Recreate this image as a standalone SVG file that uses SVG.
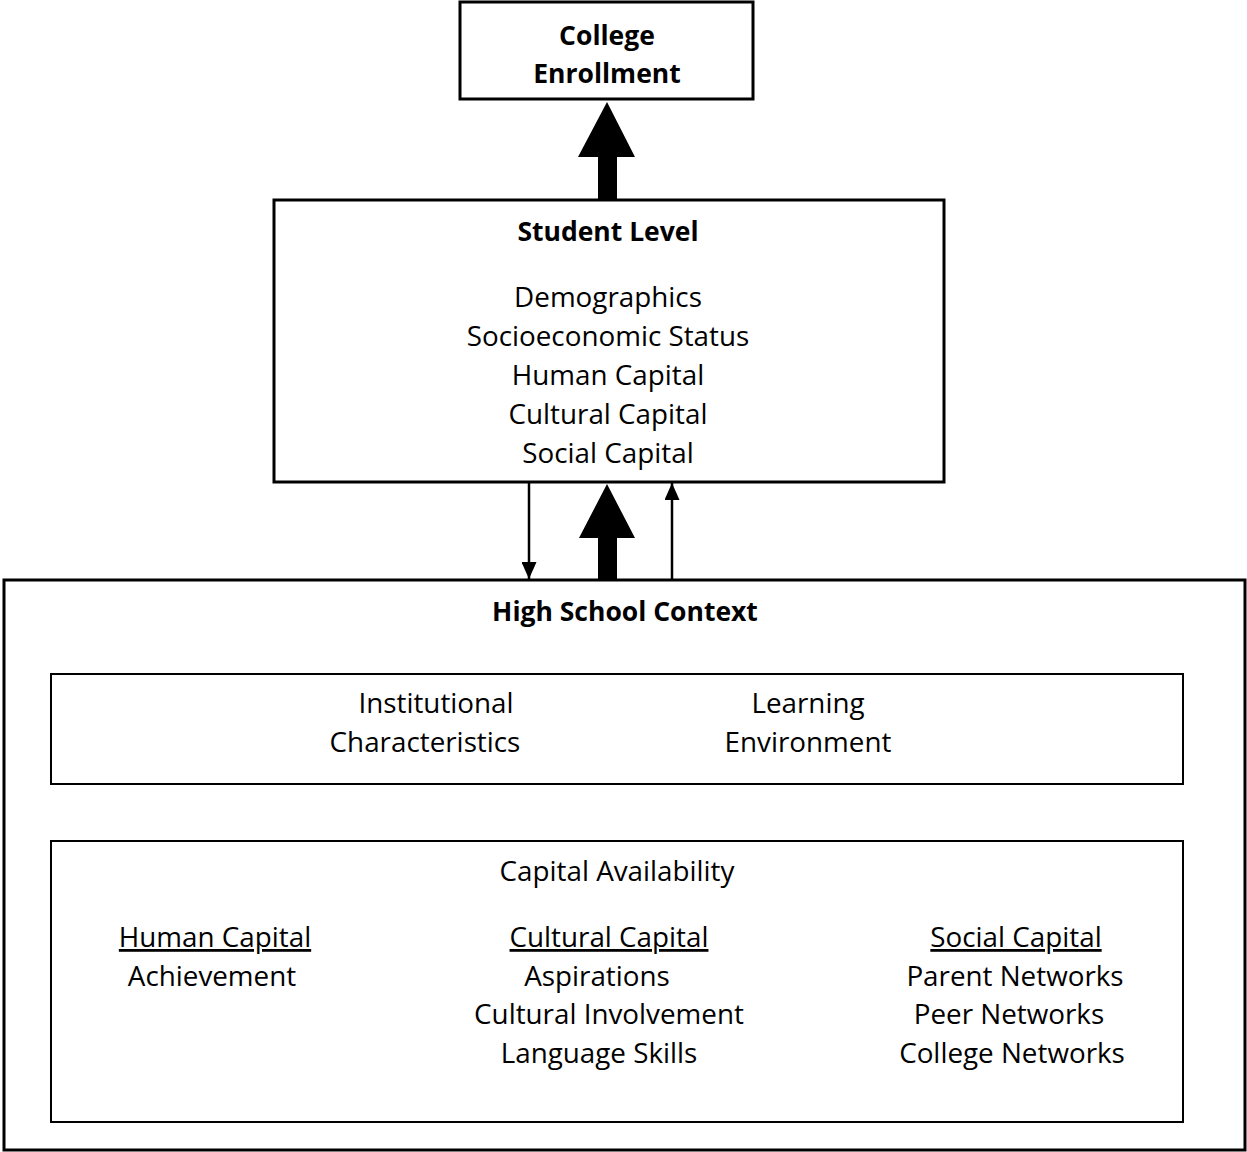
<svg xmlns="http://www.w3.org/2000/svg" width="1247" height="1152" viewBox="0 0 1247 1152">
<style>
.box{fill:#fff;stroke:#000;stroke-width:3}
.inner{fill:#fff;stroke:#000;stroke-width:2}
text{font-family:"Open Sans","Liberation Sans",sans-serif;font-size:27.8px;fill:#000;text-anchor:middle}
.b{font-weight:bold;font-size:26.5px}
.u{text-decoration:underline}
.thin{stroke:#000;stroke-width:2.5;fill:none}
</style>
<defs>
<marker id="ah" viewBox="0 0 17 15" refX="17" refY="7.5" markerWidth="17" markerHeight="15" markerUnits="userSpaceOnUse" orient="auto">
<path d="M0,0 L17,7.5 L0,15 Z" fill="#000"/>
</marker>
</defs>
<g id="college-enrollment">
<rect class="box" x="460" y="2" width="293" height="97"/>
<text class="b" x="607" y="45">College</text>
<text class="b" x="607" y="83">Enrollment</text>
</g>
<g id="student-level">
<rect class="box" x="274" y="200" width="670" height="282"/>
<text class="b" x="608" y="241">Student Level</text>
<text x="608" y="307">Demographics</text>
<text x="608" y="346">Socioeconomic Status</text>
<text x="608" y="385">Human Capital</text>
<text x="608" y="424">Cultural Capital</text>
<text x="608" y="463">Social Capital</text>
</g>
<g id="high-school-context">
<rect class="box" x="4" y="580" width="1241" height="570" stroke-width="3.5"/>
<text class="b" x="625" y="621">High School Context</text>
</g>
<g id="institutional-learning">
<rect class="inner" x="51" y="674" width="1132" height="110"/>
<text x="436" y="713">Institutional</text>
<text x="425" y="752">Characteristics</text>
<text x="808" y="713">Learning</text>
<text x="808" y="752">Environment</text>
</g>
<g id="capital-availability">
<rect class="inner" x="51" y="841" width="1132" height="281"/>
<text x="617" y="881">Capital Availability</text>
<text class="u" x="215" y="947">Human Capital</text>
<text x="212" y="986">Achievement</text>
<text class="u" x="609" y="947">Cultural Capital</text>
<text x="597" y="986">Aspirations</text>
<text x="609" y="1024">Cultural Involvement</text>
<text x="599" y="1063">Language Skills</text>
<text class="u" x="1016" y="947">Social Capital</text>
<text x="1015" y="986">Parent Networks</text>
<text x="1009" y="1024">Peer Networks</text>
<text x="1012" y="1063">College Networks</text>
</g>
<g id="connectors">
<polygon points="607,102 635,157 617,157 617,200 598,200 598,157 578,157" fill="#000"/>
<polygon points="607,484 635,538 617,538 617,580 598,580 598,538 579,538" fill="#000"/>
<line class="thin" x1="529" y1="482" x2="529" y2="579" marker-end="url(#ah)"/>
<line class="thin" x1="672" y1="580" x2="672" y2="483" marker-end="url(#ah)"/>
</g>
</svg>
